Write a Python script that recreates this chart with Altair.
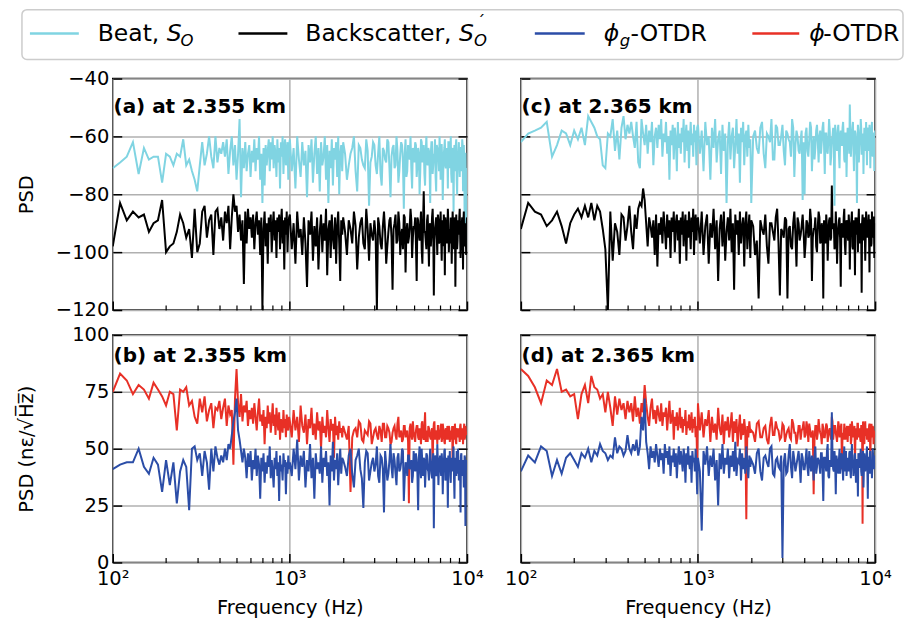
import altair as alt
import pandas as pd

# Frequency bins (Hz)
FREQ = list(range(100, 1000, 10)) + list(range(1000, 2000, 25)) + list(range(2000, 10001, 100))
FREQ_HB = list(range(2050, 10000, 100))

# (a) 2.355 km, PSD (dB)
A_BEAT = [
    -71, -69, -67, -62, -73, -64, -68, -67, -67, -76, -66,
    -67, -70, -66, -67, -61, -70, -68, -72, -75, -79,
    -70, -62, -70, -66, -60, -67, -71, -60, -69, -64,
    -66, -62, -67, -61, -73, -65, -60, -70, -63, -75,
    -66, -54, -81, -64, -71, -62, -72, -66, -63, -74,
    -65, -69, -61, -72, -64, -68, -60, -75, -66, -83,
    -64, -77, -63, -70, -65, -61, -72, -62, -68, -60,
    -71, -63, -66, -74, -61, -69, -64, -78, -62, -67,
    -60, -73, -64, -61, -70, -66, -62, -75, -63,
    -61, -72, -64, -78, -60, -68, -74, -62, -70, -65, -81, -63, -69, -61, -76, -66, -60, -73, -64, -79,
    -62, -70, -67, -60, -75, -63, -83, -65, -71, -61, -77, -64, -68, -62, -74, -60, -80, -66, -63, -72,
    -62, -75, -66, -60, -79, -64, -70, -61, -84, -67,
    -63, -73, -60, -77, -65, -69, -62, -81, -64, -71,
    -60, -76, -66, -63, -85, -61, -72, -65, -60, -78,
    -67, -62, -74, -64, -80, -61, -69, -63, -77, -60,
    -70, -65, -83, -62, -73, -66, -61, -79, -64, -68,
    -60, -75, -63, -82, -66, -61, -71, -64, -78, -62,
    -69, -60, -76, -65, -86, -63, -72, -61, -80, -67,
    -62, -74, -64, -70, -61, -79, -63, -90, -66, -98,
    -72,
]
A_BEAT_HB = [
    -66, -70, -64, -72, -63, -68, -71, -65, -69, -62,
    -70, -66, -73, -64, -68, -61, -71, -67, -63, -70,
    -65, -72, -62, -69, -66, -74, -63, -68, -71, -64,
    -69, -63, -70, -66, -72, -62, -67, -73, -65, -69,
    -64, -71, -66, -62, -70, -68, -74, -63, -67, -72,
    -66, -63, -69, -72, -64, -70, -65, -68, -62, -71,
    -67, -73, -64, -69, -66, -71, -63, -75, -68, -65,
    -70, -64, -72, -67, -63, -74, -69, -66, -78, -71,
]
A_BACK = [
    -98, -83, -89, -86, -88, -87, -93, -90, -89, -82, -100,
    -98, -97, -93, -87, -90, -95, -92, -102, -85, -100,
    -97, -86, -84, -95, -89, -87, -101, -86, -85, -92,
    -88, -96, -86, -90, -84, -99, -88, -80, -86, -84,
    -93, -87, -96, -89, -111, -86, -97, -85, -92, -88,
    -95, -87, -99, -90, -86, -94, -89, -101, -88, -120,
    -92, -86, -98, -90, -104, -88, -93, -87, -100, -91,
    -86, -96, -89, -102, -88, -93, -87, -99, -90, -85,
    -97, -89, -106, -88, -94, -86, -100, -91, -88,
    -87, -99, -90, -104, -86, -95, -92, -101, -88, -97, -112, -89, -94, -86, -103, -91, -98, -88, -106, -93,
    -87, -100, -90, -96, -85, -108, -92, -89, -102, -87, -95, -99, -88, -104, -91, -86, -97, -110, -89, -94,
    -88, -101, -92, -86, -106, -90, -97, -85, -103, -94,
    -89, -120, -91, -99, -86, -104, -93, -88, -113, -90,
    -97, -86, -101, -92, -87, -107, -90, -95, -85, -102,
    -91, -88, -110, -89, -96, -86, -104, -79, -93, -99,
    -87, -105, -90, -94, -85, -115, -92, -88, -101, -89,
    -96, -86, -103, -91, -87, -108, -90, -97, -85, -100,
    -92, -88, -104, -86, -95, -90, -112, -87, -99, -89,
    -94, -85, -102, -91, -88, -106, -86, -97, -90, -101,
    -88,
]
A_BACK_HB = [
    -93, -89, -97, -91, -95, -88, -99, -92, -90, -96,
    -94, -88, -97, -91, -93, -98, -89, -95, -92, -87,
    -96, -90, -94, -99, -88, -93, -97, -91, -89, -95,
    -92, -97, -88, -94, -91, -99, -90, -93, -96, -89,
    -95, -91, -98, -88, -93, -96, -90, -94, -87, -97,
    -91, -95, -89, -98, -92, -88, -96, -93, -90, -94,
    -97, -89, -93, -91, -99, -88, -95, -92, -96, -90,
    -88, -94, -97, -90, -93, -89, -98, -92, -95, -91,
]
# (b) 2.355 km, strain PSD
B_PHI = [
    75, 83, 80, 74, 78, 76, 72, 79, 76, 73, 69,
    75, 74, 58, 76, 75, 77, 69, 71, 64, 61,
    72, 66, 73, 62, 67, 70, 59, 68, 67, 71,
    63, 68, 72, 60, 69, 65, 67, 43, 72, 85,
    70, 64, 74, 62, 69, 66, 71, 60, 67, 63,
    68, 61, 70, 64, 58, 66, 72, 62, 65, 60,
    67, 52, 64, 59, 69, 61, 66, 57, 63, 70,
    60, 65, 56, 68, 62, 58, 66, 54, 63, 61,
    57, 67, 59, 63, 55, 65, 60, 58, 64,
    62, 55, 67, 58, 64, 53, 69, 60, 57, 65, 52, 63, 59, 68, 56, 61, 54, 66, 58, 62,
    50, 64, 57, 60, 55, 67, 59, 53, 63, 58, 61, 46, 64, 56, 60, 54, 62, 57, 59, 55,
    60, 54, 31, 58, 55, 61, 53, 57, 62, 52,
    58, 56, 60, 53, 61, 55, 59, 52, 57, 60,
    54, 64, 56, 53, 60, 55, 58, 26, 61, 54,
    57, 53, 60, 55, 59, 52, 62, 54, 66, 57,
    53, 59, 55, 58, 42, 61, 54, 57, 52, 60,
    55, 58, 53, 61, 56, 52, 59, 54, 57, 60,
    53, 58, 55, 41, 60, 54, 57, 52, 59, 55,
    58, 53, 61, 55, 57, 52, 59, 54, 60, 56,
    57,
]
B_PHI_HB = [
    57, 60, 55, 59, 62, 54, 58, 56, 61, 55,
    59, 54, 58, 61, 55, 60, 57, 53, 59, 56,
    61, 55, 58, 54, 60, 57, 53, 59, 56, 62,
    55, 58, 60, 54, 57, 61, 55, 59, 53, 58,
    60, 56, 54, 59, 57, 62, 55, 58, 60, 54,
    57, 61, 55, 59, 53, 58, 56, 60, 54, 59,
    56, 54, 60, 57, 55, 61, 53, 58, 56, 59,
    55, 60, 57, 54, 59, 56, 61, 55, 58, 57,
]
B_PHIG = [
    41, 43, 44, 44, 50, 42, 39, 46, 43, 31, 45,
    34, 44, 26, 40, 45, 42, 23, 50, 51, 45,
    48, 38, 49, 44, 32, 50, 40, 51, 46, 43,
    47, 44, 50, 45, 52, 50, 56, 62, 66, 72,
    58, 54, 49, 44, 50, 46, 37, 48, 42, 49,
    36, 45, 41, 50, 38, 47, 43, 28, 46, 40,
    48, 35, 44, 39, 47, 42, 51, 37, 45, 40,
    33, 46, 41, 49, 38, 44, 27, 47, 40, 43,
    36, 48, 42, 45, 30, 44, 39, 47, 41,
    44, 38, 50, 41, 54, 36, 47, 42, 49, 33, 45, 40, 52, 37, 46, 28, 48, 41, 44, 39,
    51, 35, 46, 42, 49, 38, 44, 25, 47, 40, 53, 36, 45, 41, 48, 34, 43, 50, 39, 46,
    45, 38, 50, 33, 47, 41, 24, 49, 36, 44,
    40, 51, 35, 46, 22, 43, 39, 52, 37, 45,
    34, 48, 41, 50, 27, 44, 38, 47, 42, 35,
    49, 40, 45, 23, 51, 37, 43, 46, 33, 48,
    41, 36, 50, 39, 44, 15, 47, 38, 52, 34,
    45, 41, 48, 30, 43, 50, 37, 46, 24, 42,
    49, 35, 44, 40, 51, 28, 46, 38, 43, 50,
    36, 45, 22, 48, 40, 44, 33, 47, 16, 42,
    45,
]
B_PHIG_HB = [
    42, 47, 39, 45, 50, 37, 44, 48, 40, 46,
    43, 38, 47, 41, 49, 36, 45, 42, 48, 39,
    46, 40, 44, 49, 37, 43, 47, 41, 45, 38,
    44, 48, 39, 46, 42, 50, 38, 45, 41, 47,
    40, 45, 43, 37, 48, 41, 46, 39, 44, 42,
    47, 38, 44, 42, 49, 36, 45, 40, 47, 43,
    38, 46, 42, 48, 37, 44, 41, 49, 39, 45,
    43, 40, 47, 38, 45, 42, 36, 46, 40, 44,
]
# (c) 2.365 km, PSD (dB)
C_BEAT = [
    -62, -59, -58, -57, -55, -67, -63, -58, -59, -63, -58,
    -61, -57, -63, -53, -55, -57, -60, -61, -70, -71,
    -59, -60, -54, -65, -58, -68, -57, -53, -61, -56,
    -59, -55, -60, -64, -55, -69, -71, -54, -59, -63,
    -56, -66, -58, -62, -55, -70, -60, -57, -64, -56,
    -61, -54, -67, -59, -62, -55, -66, -60, -75, -58,
    -63, -56, -68, -57, -61, -72, -55, -64, -59, -66,
    -57, -62, -54, -69, -60, -56, -65, -58, -71, -61,
    -55, -63, -59, -67, -56, -62, -58, -70, -57,
    -56, -66, -58, -72, -55, -63, -60, -75, -57, -64, -54, -69, -61, -58, -73, -56, -65, -59, -83, -62,
    -55, -68, -60, -57, -71, -63, -54, -66, -59, -76, -57, -62, -55, -70, -60, -58, -67, -56, -64, -61,
    -83, -58, -66, -55, -71, -60, -54, -68, -57, -63,
    -56, -70, -59, -62, -54, -74, -58, -65, -61, -82,
    -80, -57, -67, -55, -72, -60, -64, -56, -69, -58,
    -62, -55, -73, -59, -66, -54, -70, -61, -57, -84,
    -60, -65, -56, -71, -58, -63, -55, -68, -59, -74,
    -57, -62, -49, -67, -60, -55, -72, -58, -64, -83,
    -56, -69, -60, -54, -66, -59, -73, -57, -62, -55,
    -70, -58, -64, -56, -71, -60, -55, -67, -59, -72,
    -58,
]
C_BEAT_HB = [
    -60, -64, -57, -66, -59, -62, -68, -56, -63, -60,
    -65, -58, -61, -67, -57, -63, -60, -66, -58, -62,
    -59, -65, -61, -57, -64, -68, -58, -62, -60, -66,
    -57, -63, -59, -65, -61, -58, -67, -60, -64, -56,
    -62, -58, -66, -60, -63, -57, -61, -69, -59, -64,
    -60, -66, -58, -62, -57, -65, -61, -59, -67, -63,
    -58, -64, -61, -57, -66, -60, -63, -59, -65, -62,
    -61, -57, -65, -60, -63, -58, -66, -61, -59, -64,
]
C_BACK = [
    -92, -83, -86, -87, -91, -89, -86, -91, -97, -90, -87,
    -85, -88, -84, -88, -83, -89, -84, -86, -92, -99,
    -120, -86, -103, -90, -93, -101, -87, -88, -96, -91,
    -84, -93, -99, -87, -92, -85, -83, -84, -78, -82,
    -90, -98, -88, -91, -95, -89, -101, -87, -105, -90,
    -94, -88, -97, -86, -92, -99, -87, -95, -89, -102,
    -88, -93, -86, -100, -90, -87, -96, -89, -104, -88,
    -94, -86, -98, -91, -87, -103, -89, -95, -86, -92,
    -99, -88, -93, -85, -101, -90, -87, -96, -89,
    -88, -97, -86, -101, -91, -87, -104, -90, -95, -85, -99, -89, -110, -92, -87, -98, -86, -103, -93, -88,
    -96, -85, -100, -90, -113, -87, -94, -89, -101, -86, -97, -91, -88, -105, -90, -86, -99, -92, -87, -102,
    -89, -101, -116, -92, -87, -104, -90, -96, -85, -115,
    -93, -88, -116, -91, -99, -86, -105, -90, -94, -87,
    -102, -89, -95, -85, -110, -92, -88, -100, -86, -97,
    -90, -116, -93, -87, -103, -89, -96, -77, -91, -99,
    -86, -104, -92, -88, -112, -90, -95, -85, -101, -89,
    -94, -87, -106, -91, -86, -99, -89, -108, -92, -88,
    -100, -85, -96, -90, -114, -87, -93, -89, -103, -86,
    -95, -91, -87, -107, -89, -98, -86, -93, -88, -102,
    -90,
]
C_BACK_HB = [
    -91, -96, -89, -94, -98, -90, -93, -88, -97, -92,
    -95, -89, -92, -98, -90, -94, -88, -96, -91, -93,
    -97, -90, -94, -89, -95, -92, -98, -91, -88, -96,
    -93, -89, -97, -91, -94, -88, -95, -92, -90, -98,
    -92, -95, -89, -96, -91, -93, -88, -97, -94, -90,
    -96, -91, -93, -89, -98, -92, -95, -88, -94, -91,
    -89, -97, -92, -94, -90, -96, -88, -93, -95, -91,
    -94, -90, -96, -89, -92, -97, -91, -95, -88, -93,
]
# (d) 2.365 km, strain PSD
D_PHI = [
    85, 82, 77, 70, 80, 78, 85, 75, 76, 73, 74,
    63, 74, 78, 70, 82, 77, 76, 72, 74, 66,
    75, 68, 60, 73, 65, 72, 67, 70, 63, 71,
    66, 70, 62, 73, 64, 68, 61, 70, 66, 78,
    70, 64, 60, 68, 72, 63, 67, 61, 69, 65,
    62, 70, 60, 66, 64, 68, 58, 65, 71, 61,
    63, 67, 54, 64, 60, 66, 58, 62, 68, 59,
    64, 57, 63, 60, 67, 56, 62, 59, 65, 58,
    61, 66, 57, 63, 59, 64, 55, 60, 43,
    70, 58, 66, 55, 63, 60, 67, 53, 64, 57, 61, 54, 68, 59, 56, 65, 52, 62, 58, 64,
    55, 60, 66, 53, 62, 57, 63, 51, 59, 65, 54, 61, 56, 63, 58, 19, 60, 55, 62, 57,
    58, 53, 62, 55, 60, 52, 64, 56, 59, 54,
    61, 53, 58, 55, 63, 57, 52, 60, 54, 59,
    55, 62, 53, 58, 56, 30, 60, 54, 63, 57,
    52, 59, 55, 61, 53, 58, 56, 64, 54, 60,
    57, 53, 62, 55, 59, 41, 56, 61, 54, 58,
    53, 60, 56, 52, 62, 55, 58, 44, 59, 54,
    61, 55, 57, 53, 60, 17, 58, 52, 62, 56,
    54, 59, 53, 61, 45, 57, 55, 60, 52, 58,
    56,
]
D_PHI_HB = [
    57, 61, 55, 59, 54, 60, 56, 62, 58, 55,
    60, 56, 59, 54, 61, 57, 55, 60, 58, 62,
    56, 59, 61, 55, 58, 54, 60, 57, 59, 56,
    61, 55, 58, 60, 56, 59, 54, 62, 57, 60,
    55, 58, 60, 56, 61, 57, 54, 59, 55, 60,
    58, 56, 61, 54, 59, 57, 60, 55, 58, 61,
    56, 59, 54, 60, 57, 62, 55, 58, 56, 59,
    57, 55, 60, 58, 54, 61, 56, 59, 57, 55,
]
D_PHIG = [
    40, 47, 44, 51, 49, 38, 45, 39, 46, 48, 45,
    42, 48, 46, 50, 44, 49, 47, 52, 49, 48,
    45, 47, 46, 55, 48, 51, 50, 47, 49, 56,
    50, 48, 52, 49, 54, 47, 51, 64, 58, 72,
    53, 48, 41, 51, 46, 49, 44, 52, 47, 42,
    50, 45, 48, 39, 52, 46, 49, 43, 51, 38,
    47, 44, 50, 42, 48, 37, 46, 51, 43, 49,
    45, 40, 50, 46, 35, 48, 43, 51, 44, 41,
    47, 35, 49, 44, 46, 40, 50, 42, 30,
    46, 40, 14, 49, 43, 51, 38, 47, 42, 50, 36, 45, 25, 48, 41, 52, 39, 46, 43, 50,
    37, 47, 42, 49, 40, 53, 38, 45, 44, 50, 36, 48, 41, 46, 39, 51, 43, 37, 47, 42,
    45, 39, 50, 36, 47, 42, 51, 38, 46, 41,
    2, 48, 40, 52, 37, 45, 43, 49, 35, 46,
    41, 50, 38, 44, 47, 36, 51, 42, 45, 39,
    48, 27, 46, 40, 52, 37, 44, 66, 41, 49,
    30, 45, 39, 50, 42, 47, 36, 51, 43, 38,
    46, 40, 49, 37, 52, 44, 41, 48, 35, 45,
    29, 47, 42, 50, 38, 45, 33, 48, 40, 44,
    51, 28, 46, 39, 49, 43, 37, 50, 41, 47,
    44,
]
D_PHIG_HB = [
    43, 48, 40, 46, 44, 50, 39, 45, 42, 47,
    44, 39, 47, 42, 49, 40, 46, 43, 48, 41,
    45, 42, 49, 40, 44, 47, 39, 46, 43, 48,
    41, 46, 43, 49, 38, 45, 42, 47, 40, 44,
    47, 41, 45, 39, 48, 43, 46, 40, 49, 42,
    44, 48, 40, 46, 42, 38, 47, 43, 45, 41,
    48, 42, 46, 40, 44, 49, 41, 45, 43, 47,
    40, 46, 43, 48, 39, 45, 42, 47, 44, 41,
]

for _name, _s, _h in [("A_BEAT", A_BEAT, A_BEAT_HB), ("A_BACK", A_BACK, A_BACK_HB),
                      ("B_PHI", B_PHI, B_PHI_HB), ("B_PHIG", B_PHIG, B_PHIG_HB),
                      ("C_BEAT", C_BEAT, C_BEAT_HB), ("C_BACK", C_BACK, C_BACK_HB),
                      ("D_PHI", D_PHI, D_PHI_HB), ("D_PHIG", D_PHIG, D_PHIG_HB)]:
    assert len(_s) == len(FREQ), f"{_name}: {len(_s)} vs {len(FREQ)}"
    assert len(_h) == len(FREQ_HB), f"{_name}_HB: {len(_h)} vs {len(FREQ_HB)}"

X_MAJOR = [100, 1000, 10000]
X_MINOR = [200, 300, 400, 500, 600, 700, 800, 900, 2000, 3000, 4000, 5000, 6000, 7000, 8000, 9000]
Y_TOP = [-120, -100, -80, -60, -40]
Y_BOT = [0, 25, 50, 75, 100]

C_BEATCOL = "#80D4E2"
C_BLACK = "#000000"
C_BLUE = "#2B4DA7"
C_RED = "#E83026"
FONT = "DejaVu Sans"
FS = 19.5
PW = 355


def xscale():
    return alt.Scale(type="log", domain=[100, 10000], nice=False)


def series_df(vals, hb):
    df = pd.DataFrame({"f": FREQ + FREQ_HB, "v": vals + hb})
    return df.sort_values("f").reset_index(drop=True)


def legend_layers():
    # layout of the legend box, in pixels relative to the top-left of panel (a)
    lx = alt.Scale(domain=[0, PW], range=[0, PW])
    ly = alt.Scale(domain=[0, 232], range=[0, 232])
    box = alt.Chart(pd.DataFrame({"x": [-91], "x2": [792], "y": [-69], "y2": [-19]})).mark_rect(
        fill="white", fillOpacity=0, stroke="#cccccc", strokeWidth=1.5, cornerRadius=5
    ).encode(x=alt.X("x:Q", scale=lx, axis=None), x2="x2:Q",
             y=alt.Y("y:Q", scale=ly, axis=None), y2="y2:Q")
    sw = alt.Chart(pd.DataFrame({
        "x": [-83, 126, 423, 641], "x2": [-34, 175, 473, 688], "y": [-45, -45, -45, -45],
        "c": [C_BEATCOL, C_BLACK, C_BLUE, C_RED]})).mark_rule(strokeWidth=2.5).encode(
        x=alt.X("x:Q", scale=lx, axis=None), x2="x2:Q",
        y=alt.Y("y:Q", scale=ly, axis=None), color=alt.Color("c:N", scale=None))

    def txt(df, size, style):
        return alt.Chart(df).mark_text(align="left", baseline="alphabetic", fontSize=size,
                                       fontStyle=style, font=FONT, color="black").encode(
            x=alt.X("x:Q", scale=lx, axis=None), y=alt.Y("y:Q", scale=ly, axis=None), text="t:N")

    main = txt(pd.DataFrame({"x": [-15, 193, 519, 712], "y": [-38] * 4,
                             "t": ["Beat,", "Backscatter,", "-OTDR", "-OTDR"]}), 23.5, "normal")
    sym = txt(pd.DataFrame({"x": [54, 347, 492, 698], "y": [-38] * 4,
                            "t": ["S", "S", "ϕ", "ϕ"]}), 23.5, "italic")
    sub = txt(pd.DataFrame({"x": [68, 362, 508], "y": [-33] * 3, "t": ["O", "O", "g"]}), 16.5, "italic")
    sup = txt(pd.DataFrame({"x": [365], "y": [-52], "t": ["´"]}), 16.5, "normal")
    return [box, sw, main, sym, sub, sup]


def panel(series, ydom, yvals, ytitle, label, label_v, left, bottom, height, with_legend=False):
    yscale = alt.Scale(domain=ydom, nice=False, zero=False)
    layers = []
    for i, (vals, hb, color) in enumerate(series):
        df = series_df(vals, hb)
        if i == 0:
            xa = alt.Axis(orient="bottom", values=X_MAJOR, offset=-9, tickSize=9, tickWidth=1.5,
                          tickColor="black", domain=False, grid=True, gridColor="#b0b0b0",
                          gridWidth=1.5, labels=bottom,
                          labelExpr="datum.value == 100 ? '10²' : datum.value == 1000 ? '10³' : '10⁴'",
                          labelFontSize=FS, labelFont=FONT, labelColor="black", labelPadding=7,
                          labelFlush=False, labelOverlap=False,
                          title="Frequency (Hz)" if bottom else "", titleFontSize=FS,
                          titleFont=FONT, titleFontWeight="normal", titleColor="black",
                          titlePadding=11)
            ya = alt.Axis(orient="left", values=yvals, offset=-9, tickSize=9, tickWidth=1.5,
                          tickColor="black", domain=False, grid=True, gridColor="#b0b0b0",
                          gridWidth=1.5, labels=left, labelFontSize=FS, labelFont=FONT,
                          labelColor="black", labelPadding=4, labelFlush=False,
                          labelOverlap=False, title=ytitle if left else "", titleFontSize=FS,
                          titleFont=FONT, titleFontWeight="normal", titleColor="black",
                          titlePadding=18, minExtent=67, maxExtent=67)
        else:
            xa = alt.Axis(orient="bottom", values=X_MINOR, offset=-5, tickSize=5, tickWidth=1.2,
                          tickColor="black", domain=False, grid=False, labels=False, title="")
            ya = alt.Axis(orient="right", values=yvals, offset=-9, tickSize=9, tickWidth=1.5,
                          tickColor="black", domain=False, grid=False, labels=False, title="")
        layers.append(
            alt.Chart(df).mark_line(color=color, strokeWidth=2, clip=True).encode(
                x=alt.X("f:Q", scale=xscale(), axis=xa),
                y=alt.Y("v:Q", scale=yscale, axis=ya),
            )
        )
    lab = alt.Chart(pd.DataFrame({"f": [101], "v": [label_v], "t": [label]})).mark_text(
        align="left", baseline="alphabetic", fontSize=20, fontWeight="bold", font=FONT, color="black"
    ).encode(
        x=alt.X("f:Q", scale=xscale(), axis=None),
        y=alt.Y("v:Q", scale=yscale, axis=None),
        text="t:N",
    )
    layers.append(lab)
    if with_legend:
        layers += legend_layers()
        ch = alt.layer(*layers).resolve_scale(x="independent", y="independent")
    else:
        ch = alt.layer(*layers)
    return ch.resolve_axis(x="independent", y="independent").properties(width=PW, height=height)


STRAIN_TITLE = "PSD (nε/√H\u0305z\u0305)"

pa = panel([(A_BEAT, A_BEAT_HB, C_BEATCOL), (A_BACK, A_BACK_HB, C_BLACK)], [-120, -40], Y_TOP,
           "PSD", "(a) at 2.355 km", -52, True, False, 232, with_legend=True)
pc = panel([(C_BEAT, C_BEAT_HB, C_BEATCOL), (C_BACK, C_BACK_HB, C_BLACK)], [-120, -40], Y_TOP,
           "PSD", "(c) at 2.365 km", -52, False, False, 232)
pb = panel([(B_PHI, B_PHI_HB, C_RED), (B_PHIG, B_PHIG_HB, C_BLUE)], [0, 100], Y_BOT,
           STRAIN_TITLE, "(b) at 2.355 km", 88, True, True, 228)
pd_ = panel([(D_PHI, D_PHI_HB, C_RED), (D_PHIG, D_PHIG_HB, C_BLUE)], [0, 100], Y_BOT,
            STRAIN_TITLE, "(d) at 2.365 km", 88, False, True, 228)

row1 = alt.hconcat(pa, pc, spacing=54, bounds="flush")
row2 = alt.hconcat(pb, pd_, spacing=54, bounds="flush")

chart = alt.vconcat(row1, row2, spacing=3).properties(
    padding={"left": 16, "top": 7, "right": 3, "bottom": 3}
).configure(font=FONT).configure_view(stroke="black", strokeWidth=1.5)

chart.save("out.html", embed_options={"renderer": "svg", "actions": False})
